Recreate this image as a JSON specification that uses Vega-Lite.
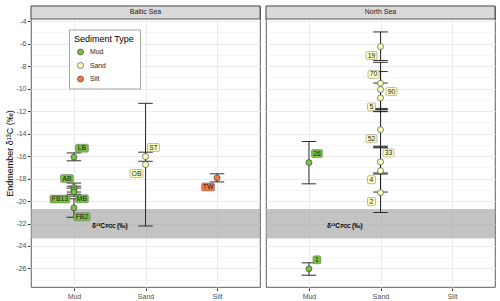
{
  "$schema": "https://vega.github.io/schema/vega-lite/v6.json",
  "background": "white",
  "padding": {"left": 5, "top": 5, "right": 3, "bottom": 2},
  "config": {
    "font": "Liberation Sans",
    "view": {"stroke": "#333333", "strokeWidth": 0.8},
    "axis": {"labelColor": "#4d4d4d", "labelFontSize": 7, "tickColor": "#333333", "tickSize": 2.5, "labelPadding": 1.5, "gridColor": "#ebebeb", "gridWidth": 1, "domain": false, "titleFontWeight": "normal", "titleColor": "#000000", "titleFontSize": 9}
  },
  "datasets": {
    "d": [
      {"sea": "Baltic Sea", "kind": "band", "lo": -23.33, "hi": -20.7},
      {"sea": "North Sea", "kind": "band", "lo": -23.33, "hi": -20.7},
      {"sea": "Baltic Sea", "kind": "pt", "sed": "Mud", "label": "LB", "v": -16.1, "lo": -16.42, "hi": -15.72},
      {"sea": "Baltic Sea", "kind": "pt", "sed": "Mud", "label": "AB", "v": -18.8, "lo": -19.2, "hi": -18.4},
      {"sea": "Baltic Sea", "kind": "pt", "sed": "Mud", "label": "MB", "v": -19.0, "lo": -19.4, "hi": -18.68},
      {"sea": "Baltic Sea", "kind": "pt", "sed": "Mud", "label": "FB13", "v": -19.2, "lo": -19.57, "hi": -18.85},
      {"sea": "Baltic Sea", "kind": "pt", "sed": "Mud", "label": "FB2", "v": -20.6, "lo": -21.44, "hi": -19.8},
      {"sea": "Baltic Sea", "kind": "pt", "sed": "Sand", "label": "ST", "v": -16.04, "lo": -16.46, "hi": -15.65},
      {"sea": "Baltic Sea", "kind": "pt", "sed": "Sand", "label": "OB", "v": -16.75, "lo": -22.22, "hi": -11.3},
      {"sea": "Baltic Sea", "kind": "pt", "sed": "Silt", "label": "TW", "v": -17.94, "lo": -18.3, "hi": -17.58},
      {"sea": "North Sea", "kind": "pt", "sed": "Mud", "label": "26", "v": -16.58, "lo": -18.47, "hi": -14.7},
      {"sea": "North Sea", "kind": "pt", "sed": "Mud", "label": "1", "v": -26.03, "lo": -26.6, "hi": -25.5},
      {"sea": "North Sea", "kind": "pt", "sed": "Sand", "label": "19", "v": -6.25, "lo": -7.5, "hi": -4.95},
      {"sea": "North Sea", "kind": "pt", "sed": "Sand", "label": "70", "v": -9.52, "lo": -11.75, "hi": -7.65},
      {"sea": "North Sea", "kind": "pt", "sed": "Sand", "label": "90", "v": -10.08, "lo": -11.85, "hi": -8.48},
      {"sea": "North Sea", "kind": "pt", "sed": "Sand", "label": "5", "v": -10.82, "lo": -12.0, "hi": -9.5},
      {"sea": "North Sea", "kind": "pt", "sed": "Sand", "label": "52", "v": -13.65, "lo": -15.2, "hi": -12.05},
      {"sea": "North Sea", "kind": "pt", "sed": "Sand", "label": "33", "v": -16.52, "lo": -17.6, "hi": -15.27},
      {"sea": "North Sea", "kind": "pt", "sed": "Sand", "label": "4", "v": -17.3, "lo": -19.2, "hi": -15.12},
      {"sea": "North Sea", "kind": "pt", "sed": "Sand", "label": "2", "v": -19.25, "lo": -21.02, "hi": -17.5}
    ]
  },
  "data": {"name": "d"},
  "facet": {"column": {"field": "sea", "type": "nominal", "header": null}},
  "spacing": 4,
  "spec": {
    "width": 229,
    "height": 281,
    "resolve": {"axis": {"y": "independent"}},
    "layer": [
      {
        "transform": [{"filter": "datum.kind === 'band'"}],
        "mark": {"type": "rect", "fill": "#a3a3a3", "opacity": 0.65},
        "encoding": {
          "y": {"field": "lo", "type": "quantitative", "scale": {"domain": [-27.65, -2.643], "nice": false, "zero": false},
            "axis": {"orient": "left", "values": [-26, -24, -22, -20, -18, -16, -14, -12, -10, -8, -6, -4], "title": "Endmember δ¹³C (‰)", "titlePadding": 1, "titleY": 147, "grid": true, "labelExpr": "replace(datum.label, '\u2212', '-')"}},
          "y2": {"field": "hi"}
        }
      },
      {
        "transform": [{"filter": "datum.kind === 'pt'"}],
        "mark": {"type": "rule", "color": "#1a1a1a", "strokeWidth": 0.9},
        "encoding": {
          "x": {"field": "sed", "type": "nominal", "scale": {"type": "point", "domain": ["Mud", "Sand", "Silt"], "padding": 0.6},
            "axis": {"orient": "bottom", "title": null, "grid": true, "labelAngle": 0, "labelPadding": 1.5, "labelColor": "#4d4d4d", "labelFontSize": 7}},
          "y": {"field": "lo", "type": "quantitative",
            "axis": {"orient": "left", "values": [-27, -25, -23, -21, -19, -17, -15, -13, -11, -9, -7, -5], "grid": true, "gridWidth": 0.5, "labels": false, "ticks": false, "domain": false, "title": null}},
          "y2": {"field": "hi"}
        }
      },
      {
        "transform": [{"filter": "datum.kind === 'band'"}],
        "mark": {"type": "rect", "fill": "#d9d9d9", "stroke": "#333333", "strokeWidth": 0.8},
        "encoding": {
          "y": {"datum": -3.8, "type": "quantitative", "axis": null},
          "y2": {"datum": -2.643}
        }
      },
      {
        "transform": [{"filter": "datum.kind === 'band'"}],
        "mark": {"type": "text", "fontSize": 7, "color": "#1a1a1a", "baseline": "middle", "align": "center"},
        "encoding": {
          "y": {"datum": -3.22, "type": "quantitative", "axis": null},
          "text": {"field": "sea", "type": "nominal"}
        }
      },
      {
        "transform": [{"filter": "datum.kind === 'pt'"}],
        "mark": {"type": "tick", "color": "#1a1a1a", "size": 14.5, "thickness": 0.9, "opacity": 1},
        "encoding": {
          "x": {"field": "sed", "type": "nominal"},
          "y": {"field": "lo", "type": "quantitative", "axis": null}
        }
      },
      {
        "transform": [{"filter": "datum.kind === 'pt'"}],
        "mark": {"type": "tick", "color": "#1a1a1a", "size": 14.5, "thickness": 0.9, "opacity": 1},
        "encoding": {
          "x": {"field": "sed", "type": "nominal"},
          "y": {"field": "hi", "type": "quantitative", "axis": null}
        }
      },
      {
        "transform": [{"filter": "datum.kind === 'pt'"}],
        "mark": {"type": "point", "shape": "circle", "filled": true, "size": 36, "stroke": "#333333", "strokeWidth": 0.6, "opacity": 1},
        "encoding": {
          "x": {"field": "sed", "type": "nominal"},
          "y": {"field": "v", "type": "quantitative", "axis": null},
          "fill": {"field": "sed", "type": "nominal", "scale": {"domain": ["Mud", "Sand", "Silt"], "range": ["#7bc043", "#ffffbf", "#f47a45"]},
            "legend": {"title": "Sediment Type", "orient": "none", "legendX": 38, "legendY": 23.5, "fillColor": "#ffffff", "strokeColor": "#a6a6a6", "padding": 5, "titleFontSize": 9, "titleFontWeight": "normal", "titleColor": "#000000", "titlePadding": 5, "labelFontSize": 6.8, "labelColor": "#1a1a1a", "symbolType": "circle", "symbolSize": 36, "symbolStrokeColor": "#333333", "symbolStrokeWidth": 0.6, "symbolOpacity": 1, "rowPadding": 4.5, "symbolOffset": 3, "labelOffset": 6}}
        }
      },
      {
        "transform": [{"filter": "datum.kind === 'pt'"}],
        "mark": {"type": "point", "filled": true, "size": 4, "stroke": "#555555", "strokeWidth": 0.4, "opacity": 1},
        "encoding": {
          "x": {"field": "sed", "type": "nominal"},
          "y": {"field": "v", "type": "quantitative", "axis": null},
          "fill": {"field": "sed", "type": "nominal", "legend": null},
          "shape": {"field": "label", "type": "nominal", "legend": null, "scale": {
            "domain": ["LB", "ST", "26", "33", "1", "AB", "70", "OB", "TW", "19", "52", "5", "4", "2", "MB", "FB2", "FB13", "90"],
            "range": [
              "M3,-13L13,-13Q14.5,-13 14.5,-11.5L14.5,-6.5Q14.5,-5 13,-5L3,-5Q1.5,-5 1.5,-6.5L1.5,-11.5Q1.5,-13 3,-13Z",
              "M3.5,-13L12.5,-13Q14,-13 14,-11.5L14,-6.5Q14,-5 12.5,-5L3.5,-5Q2,-5 2,-6.5L2,-11.5Q2,-13 3.5,-13Z",
              "M4,-13L12,-13Q13.5,-13 13.5,-11.5L13.5,-6.5Q13.5,-5 12,-5L4,-5Q2.5,-5 2.5,-6.5L2.5,-11.5Q2.5,-13 4,-13Z",
              "M4,-13L12,-13Q13.5,-13 13.5,-11.5L13.5,-6.5Q13.5,-5 12,-5L4,-5Q2.5,-5 2.5,-6.5L2.5,-11.5Q2.5,-13 4,-13Z",
              "M5.5,-13L10.5,-13Q12,-13 12,-11.5L12,-6.5Q12,-5 10.5,-5L5.5,-5Q4,-5 4,-6.5L4,-11.5Q4,-13 5.5,-13Z",
              "M-12,-13L-2,-13Q-0.5,-13 -0.5,-11.5L-0.5,-6.5Q-0.5,-5 -2,-5L-12,-5Q-13.5,-5 -13.5,-6.5L-13.5,-11.5Q-13.5,-13 -12,-13Z",
              "M-11,-13L-3,-13Q-1.5,-13 -1.5,-11.5L-1.5,-6.5Q-1.5,-5 -3,-5L-11,-5Q-12.5,-5 -12.5,-6.5L-12.5,-11.5Q-12.5,-13 -11,-13Z",
              "M-14,5L-4,5Q-2.5,5 -2.5,6.5L-2.5,11.5Q-2.5,13 -4,13L-14,13Q-15.5,13 -15.5,11.5L-15.5,6.5Q-15.5,5 -14,5Z",
              "M-14,5L-4,5Q-2.5,5 -2.5,6.5L-2.5,11.5Q-2.5,13 -4,13L-14,13Q-15.5,13 -15.5,11.5L-15.5,6.5Q-15.5,5 -14,5Z",
              "M-13,5L-5,5Q-3.5,5 -3.5,6.5L-3.5,11.5Q-3.5,13 -5,13L-13,13Q-14.5,13 -14.5,11.5L-14.5,6.5Q-14.5,5 -13,5Z",
              "M-13,5L-5,5Q-3.5,5 -3.5,6.5L-3.5,11.5Q-3.5,13 -5,13L-13,13Q-14.5,13 -14.5,11.5L-14.5,6.5Q-14.5,5 -13,5Z",
              "M-11.5,5L-6.5,5Q-5,5 -5,6.5L-5,11.5Q-5,13 -6.5,13L-11.5,13Q-13,13 -13,11.5L-13,6.5Q-13,5 -11.5,5Z",
              "M-11.5,5L-6.5,5Q-5,5 -5,6.5L-5,11.5Q-5,13 -6.5,13L-11.5,13Q-13,13 -13,11.5L-13,6.5Q-13,5 -11.5,5Z",
              "M-11.5,5L-6.5,5Q-5,5 -5,6.5L-5,11.5Q-5,13 -6.5,13L-11.5,13Q-13,13 -13,11.5L-13,6.5Q-13,5 -11.5,5Z",
              "M3,5L13,5Q14.5,5 14.5,6.5L14.5,11.5Q14.5,13 13,13L3,13Q1.5,13 1.5,11.5L1.5,6.5Q1.5,5 3,5Z",
              "M1.5,5L14.5,5Q16,5 16,6.5L16,11.5Q16,13 14.5,13L1.5,13Q0,13 0,11.5L0,6.5Q0,5 1.5,5Z",
              "M-22.5,3L-5.5,3Q-4,3 -4,4.5L-4,9.5Q-4,11 -5.5,11L-22.5,11Q-24,11 -24,9.5L-24,4.5Q-24,3 -22.5,3Z",
              "M7,-2L15,-2Q16.5,-2 16.5,-0.5L16.5,4.5Q16.5,6 15,6L7,6Q5.5,6 5.5,4.5L5.5,-0.5Q5.5,-2 7,-2Z"
            ]}}
        }
      },
      {
        "transform": [{"filter": {"field": "label", "oneOf": ["LB", "ST", "26", "33", "1"]}}],
        "mark": {"type": "text", "dx": 8, "dy": -9, "fontSize": 6.8, "color": "#1a1a1a", "baseline": "middle", "align": "center"},
        "encoding": {"x": {"field": "sed", "type": "nominal"}, "y": {"field": "v", "type": "quantitative", "axis": null}, "text": {"field": "label", "type": "nominal"}}
      },
      {
        "transform": [{"filter": {"field": "label", "oneOf": ["AB", "70"]}}],
        "mark": {"type": "text", "dx": -7, "dy": -9, "fontSize": 6.8, "color": "#1a1a1a", "baseline": "middle", "align": "center"},
        "encoding": {"x": {"field": "sed", "type": "nominal"}, "y": {"field": "v", "type": "quantitative", "axis": null}, "text": {"field": "label", "type": "nominal"}}
      },
      {
        "transform": [{"filter": {"field": "label", "oneOf": ["OB", "TW", "19", "52", "5", "4", "2"]}}],
        "mark": {"type": "text", "dx": -9, "dy": 9, "fontSize": 6.8, "color": "#1a1a1a", "baseline": "middle", "align": "center"},
        "encoding": {"x": {"field": "sed", "type": "nominal"}, "y": {"field": "v", "type": "quantitative", "axis": null}, "text": {"field": "label", "type": "nominal"}}
      },
      {
        "transform": [{"filter": {"field": "label", "oneOf": ["MB", "FB2"]}}],
        "mark": {"type": "text", "dx": 8, "dy": 9, "fontSize": 6.8, "color": "#1a1a1a", "baseline": "middle", "align": "center"},
        "encoding": {"x": {"field": "sed", "type": "nominal"}, "y": {"field": "v", "type": "quantitative", "axis": null}, "text": {"field": "label", "type": "nominal"}}
      },
      {
        "transform": [{"filter": {"field": "label", "oneOf": ["FB13"]}}],
        "mark": {"type": "text", "dx": -14, "dy": 7, "fontSize": 6.8, "color": "#1a1a1a", "baseline": "middle", "align": "center"},
        "encoding": {"x": {"field": "sed", "type": "nominal"}, "y": {"field": "v", "type": "quantitative", "axis": null}, "text": {"field": "label", "type": "nominal"}}
      },
      {
        "transform": [{"filter": {"field": "label", "oneOf": ["90"]}}],
        "mark": {"type": "text", "dx": 11, "dy": 2, "fontSize": 6.8, "color": "#1a1a1a", "baseline": "middle", "align": "center"},
        "encoding": {"x": {"field": "sed", "type": "nominal"}, "y": {"field": "v", "type": "quantitative", "axis": null}, "text": {"field": "label", "type": "nominal"}}
      },
      {
        "transform": [{"filter": "datum.kind === 'band'"}],
        "mark": {"type": "text", "text": "δ¹³C", "align": "right", "dx": 31, "fontSize": 6.5, "fontWeight": "bold", "color": "#000000", "baseline": "middle"},
        "encoding": {"x": {"datum": "Mud", "type": "nominal"}, "y": {"datum": -22.2, "type": "quantitative", "axis": null}}
      },
      {
        "transform": [{"filter": "datum.kind === 'band'"}],
        "mark": {"type": "text", "text": "POC", "align": "left", "dx": 31.5, "dy": 1.5, "fontSize": 4.8, "fontWeight": "bold", "color": "#000000", "baseline": "middle"},
        "encoding": {"x": {"datum": "Mud", "type": "nominal"}, "y": {"datum": -22.2, "type": "quantitative", "axis": null}}
      },
      {
        "transform": [{"filter": "datum.kind === 'band'"}],
        "mark": {"type": "text", "text": "(‰)", "align": "left", "dx": 43, "fontSize": 6.5, "fontWeight": "bold", "color": "#000000", "baseline": "middle"},
        "encoding": {"x": {"datum": "Mud", "type": "nominal"}, "y": {"datum": -22.2, "type": "quantitative", "axis": null}}
      }
    ]
  }
}
